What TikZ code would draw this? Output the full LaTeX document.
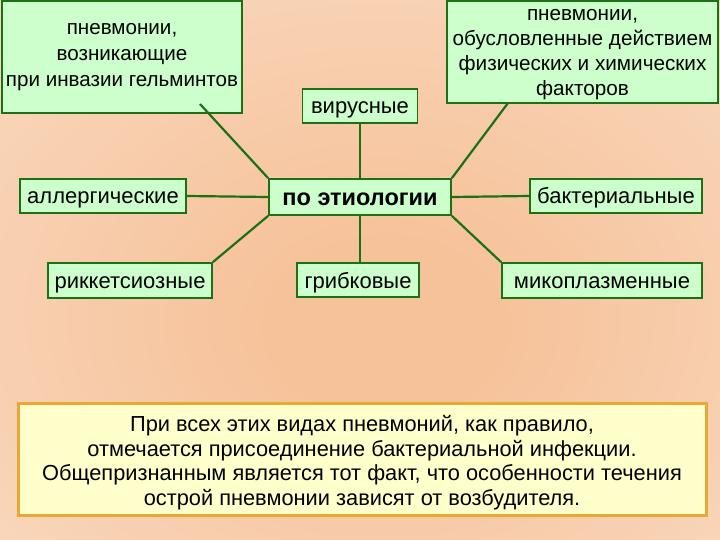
\documentclass[tikz,border=0pt]{standalone}
\usepackage{fontspec}
\setmainfont{Liberation Sans}
\definecolor{gfill}{RGB}{204,255,204}
\definecolor{gline}{RGB}{28,112,22}
\definecolor{bgin}{RGB}{246,194,154}
\definecolor{bgmid}{RGB}{251,226,206}
\definecolor{bgout}{RGB}{254,246,240}
\definecolor{yfill}{RGB}{255,255,204}
\definecolor{yline}{RGB}{232,168,52}
\pgfdeclareradialshading{bgshade}{\pgfpoint{2bp}{-6bp}}{color(0bp)=(bgin); color(8bp)=(bgin); color(50bp)=(bgmid); color(72bp)=(bgout)}
\tikzset{
  gbox/.style={draw=gline, fill=gfill, line width=1.8pt, inner sep=0pt, font=\fontsize{22}{26}\selectfont, text height=17.5pt, text depth=1.5pt},
  conn/.style={draw=gline, line width=2.2pt},
  lbl/.style={inner sep=0pt, align=center},
}
\begin{document}
\begin{tikzpicture}[x=1pt,y=-1pt]
\useasboundingbox (0,0) rectangle (720,540);
\fill[shading=bgshade] (0,0) rectangle (720,540);

\node[gbox, minimum width=240pt, minimum height=112pt, text height=, text depth=,
  label={[lbl, font=\fontsize{20.6}{26}\selectfont, anchor=north, yshift=-23pt]north:пневмонии,\\возникающие\\при инвазии гельминтов}] (tl) at (122,57) {};
\node[gbox, minimum width=271pt, minimum height=102pt, text height=, text depth=,
  label={[lbl, font=\fontsize{20.7}{25}\selectfont, yshift=-2.5pt]center:пневмонии,\\обусловленные действием\\физических и химических\\факторов}] (tr) at (582.5,52) {};
\node[gbox, minimum width=115pt, minimum height=34pt] (vir) at (360,106) {вирусные};
\node[gbox, minimum width=182pt, minimum height=36pt, font=\bfseries\fontsize{23.5}{26}\selectfont, text height=18.5pt, text depth=1.5pt] (cen) at (360,197) {по этиологии};
\node[gbox, minimum width=166pt, minimum height=34pt] (all) at (103,196) {аллергические};
\node[gbox, minimum width=172pt, minimum height=34pt] (bak) at (616,196) {бактериальные};
\node[gbox, minimum width=164pt, minimum height=35pt] (rik) at (130,280.5) {риккетсиозные};
\node[gbox, minimum width=122pt, minimum height=34pt] (gri) at (358,280) {грибковые};
\node[gbox, minimum width=200pt, minimum height=35pt] (mik) at (602,280.5) {микоплазменные};

\node[draw=yline, fill=yfill, line width=3pt, minimum width=688pt, minimum height=112pt, inner sep=0pt,
  label={[lbl, font=\fontsize{21.8}{24.5}\selectfont, yshift=-3.5pt]center:При всех этих видах пневмоний, как правило,\\отмечается присоединение бактериальной инфекции.\\Общепризнанным является тот факт, что особенности течения\\острой пневмонии зависят от возбудителя.}] (note) at (362,459) {};

\coordinate (tlc) at (200,104);
\coordinate (trc) at (508,103);
\draw[conn] (vir.south) -- (cen.north);
\draw[conn] (all.east) -- (cen.west);
\draw[conn] (cen.east) -- (bak.west);
\draw[conn] (cen.south) -- (cen.south |- gri.north);
\draw[conn] (cen.north west) -- (tlc);
\draw[conn] (cen.north east) -- (trc);
\draw[conn] (cen.south west) -- (rik.north east);
\draw[conn] (cen.south east) -- (mik.north west);
\end{tikzpicture}
\end{document}
